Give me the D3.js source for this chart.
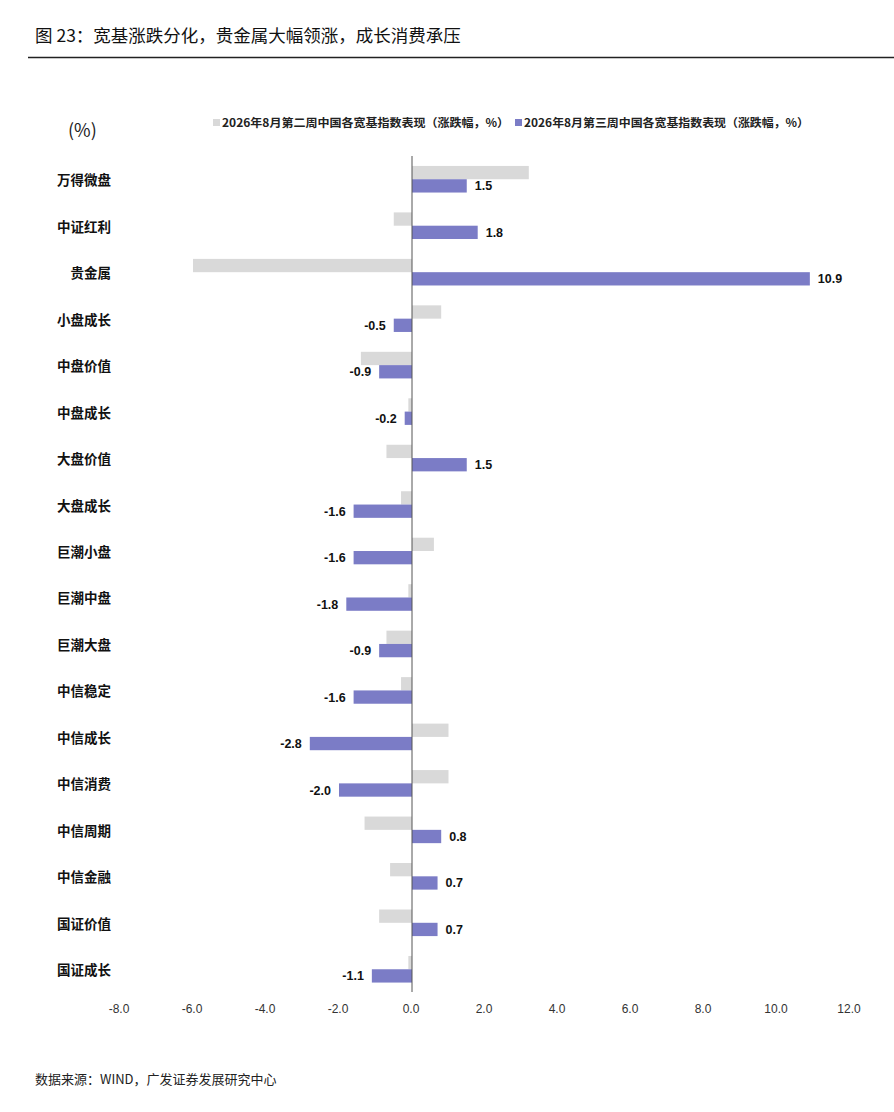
<!DOCTYPE html>
<html>
<head>
<meta charset="utf-8">
<script src="https://cdn.jsdelivr.net/npm/d3@7"></script>
<style>
  body { margin: 0; background: #fff; }
  svg { display: block; font-family: "Liberation Sans", "Noto Sans CJK SC", sans-serif; }
  .cn { font-family: "Noto Sans CJK SC", sans-serif; }
</style>
</head>
<body>
<div id="chart"></div>
<script>
// Data
const categories = ["万得微盘", "中证红利", "贵金属", "小盘成长", "中盘价值", "中盘成长", "大盘价值", "大盘成长",
  "巨潮小盘", "巨潮中盘", "巨潮大盘", "中信稳定", "中信成长", "中信消费", "中信周期", "中信金融", "国证价值", "国证成长"];
const week2 = [3.2, -0.5, -6.0, 0.8, -1.4, -0.1, -0.7, -0.3, 0.6, -0.1, -0.7, -0.3, 1.0, 1.0, -1.3, -0.6, -0.9, -0.1];
const week3 = [1.5, 1.8, 10.9, -0.5, -0.9, -0.2, 1.5, -1.6, -1.6, -1.8, -0.9, -1.6, -2.8, -2.0, 0.8, 0.7, 0.7, -1.1];
const xTicks = [-8, -6, -4, -2, 0, 2, 4, 6, 8, 10, 12];
const seriesNames = ["2026年8月第二周中国各宽基指数表现（涨跌幅，%）", "2026年8月第三周中国各宽基指数表现（涨跌幅，%）"];
const colors = ["#d9d9d9", "#7b7cc6"];

const width = 894;
const height = 1112;

// plain hyphen, as in the source
const fmt = v => v.toFixed(1);

const svg = d3.select("#chart")
  .append("svg")
    .attr("width", width)
    .attr("height", height)
    .attr("viewBox", `0 0 ${width} ${height}`);

// Title and rule
svg.append("text")
  .attr("class", "cn")
  .attr("x", 35)
  .attr("y", 42)
  .attr("font-size", 17.5)
  .attr("fill", "#111")
  .text("图 23：宽基涨跌分化，贵金属大幅领涨，成长消费承压");

svg.append("line")
  .attr("x1", 28).attr("x2", width)
  .attr("y1", 57.5).attr("y2", 57.5)
  .attr("stroke", "#222")
  .attr("stroke-width", 1.3);

// Scales
const x = d3.scaleLinear()
  .domain([-8, 12])
  .range([120, 850]);

const y = d3.scaleBand()
  .domain(categories)
  .range([156, 992.5]);

const barH = 13.3;

// Unit label
svg.append("text")
  .attr("class", "cn")
  .attr("x", 68)
  .attr("y", 137)
  .attr("font-size", 18)
  .attr("fill", "#222")
  .text("(%)");

// Legend
const legend = svg.append("g")
  .attr("class", "cn")
  .attr("font-size", 11.5)
  .attr("font-weight", 700)
  .attr("fill", "#222");

const legendX = [213, 515];
seriesNames.forEach((name, i) => {
  legend.append("rect")
    .attr("x", legendX[i])
    .attr("y", 119)
    .attr("width", 7)
    .attr("height", 7)
    .attr("fill", colors[i]);
  legend.append("text")
    .attr("x", legendX[i] + 9)
    .attr("y", 127)
    .attr("textLength", i === 0 ? 287 : 285)
    .attr("lengthAdjust", "spacingAndGlyphs")
    .text(name);
});

// Bars
const rows = categories.map((c, i) => ({ cat: c, a: week2[i], b: week3[i] }));

svg.selectAll(".bar-w2")
  .data(rows)
  .join("rect")
    .attr("class", "bar-w2")
    .attr("x", d => x(Math.min(0, d.a)))
    .attr("y", d => y(d.cat) + y.bandwidth() / 2 - barH)
    .attr("width", d => Math.abs(x(d.a) - x(0)))
    .attr("height", barH)
    .attr("fill", colors[0]);

svg.selectAll(".bar-w3")
  .data(rows)
  .join("rect")
    .attr("class", "bar-w3")
    .attr("x", d => x(Math.min(0, d.b)))
    .attr("y", d => y(d.cat) + y.bandwidth() / 2)
    .attr("width", d => Math.abs(x(d.b) - x(0)))
    .attr("height", barH)
    .attr("fill", colors[1]);

// Value labels for week 3
svg.selectAll(".val")
  .data(rows)
  .join("text")
    .attr("class", "val")
    .attr("x", d => d.b >= 0 ? x(d.b) + 8 : x(d.b) - 8)
    .attr("y", d => y(d.cat) + y.bandwidth() / 2 + barH / 2 + 4.5)
    .attr("text-anchor", d => d.b >= 0 ? "start" : "end")
    .attr("font-size", 12.5)
    .attr("font-weight", 700)
    .attr("fill", "#111")
    .text(d => fmt(d.b));

// Category labels
svg.selectAll(".cat")
  .data(categories)
  .join("text")
    .attr("class", "cat cn")
    .attr("x", 111)
    .attr("y", d => y(d) + y.bandwidth() / 2 + 6)
    .attr("text-anchor", "end")
    .attr("font-size", 13.5)
    .attr("font-weight", 700)
    .attr("fill", "#111")
    .text(d => d);

// Zero line
svg.append("line")
  .attr("x1", x(0)).attr("x2", x(0))
  .attr("y1", 156).attr("y2", 992)
  .attr("stroke", "#555")
  .attr("stroke-width", 1);

// X axis labels
svg.selectAll(".tick-label")
  .data(xTicks)
  .join("text")
    .attr("class", "tick-label")
    .attr("x", d => x(d) - 1)
    .attr("y", 1013)
    .attr("text-anchor", "middle")
    .attr("font-size", 12)
    .attr("fill", "#333")
    .text(d => fmt(d));

// Source
svg.append("text")
  .attr("class", "cn")
  .attr("x", 35)
  .attr("y", 1084)
  .attr("font-size", 13)
  .attr("fill", "#222")
  .text("数据来源：WIND，广发证券发展研究中心");
</script>
</body>
</html>
